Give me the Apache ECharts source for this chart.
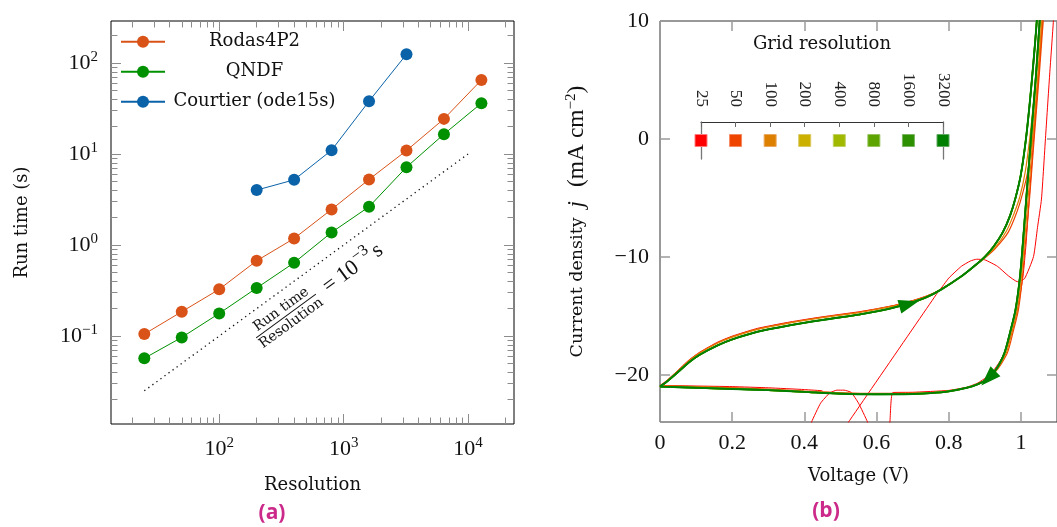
<!DOCTYPE html>
<html><head><meta charset="utf-8">
<script src="https://cdn.jsdelivr.net/npm/echarts@6/dist/echarts.min.js"></script>
<style>html,body{margin:0;padding:0;background:#fff}#c{width:1057px;height:527px}</style>
</head><body><div id="c"></div>
<script>
// ---------- (a) run time vs resolution ----------
const resolutions = [25, 50, 100, 200, 400, 800, 1600, 3200, 6400, 12800];
const rodasTimes = [0.105, 0.185, 0.326, 0.671, 1.18, 2.46, 5.25, 10.9, 24.3, 65.0];
const qndfTimes = [0.0569, 0.0966, 0.177, 0.337, 0.638, 1.375, 2.63, 7.16, 16.5, 36.1];
const courtierRes = [200, 400, 800, 1600, 3200];
const courtierTimes = [4.01, 5.2, 11.0, 38.0, 124.5];
const refLineRes = [25, 10000];
const refLineTimes = [0.025, 10];
const xMajorTicks = [100, 1000, 10000];
const xMinorTicks = [20,30,40,50,60,70,80,90,200,300,400,500,600,700,800,900,2000,3000,4000,5000,6000,7000,8000,9000,20000];
const yMajorTicks = [0.1, 1, 10, 100];
const yMinorTicks = [0.02,0.03,0.04,0.05,0.06,0.07,0.08,0.09,0.2,0.3,0.4,0.5,0.6,0.7,0.8,0.9,2,3,4,5,6,7,8,9,20,30,40,50,60,70,80,90,200];

// ---------- (b) J-V hysteresis ----------
const gridResolutions = ['25','50','100','200','400','800','1600','3200'];
const resColors = ['#ff0000','#ee4400','#dd8000','#ccb000','#a0b800','#5ea400','#2c9000','#008000'];
const resBorder = ['#ff7a7a','#f58a60','#eaa860','#dcc860','#c0d060','#98c460','#7ab460','#60a860'];
const xTicksV = [0, 0.2, 0.4, 0.6, 0.8, 1];
const yTicksJ = [-20, -10, 0, 10];
const GAP = ['-', '-'];
const jvConvergedForward = [[0,-21.0],[0.02,-20.55],[0.045,-19.9],[0.08,-18.95],[0.11,-18.3],[0.16,-17.5],[0.2,-17.0],[0.27,-16.35],[0.36,-15.8],[0.45,-15.35],[0.55,-14.9],[0.6,-14.62],[0.65,-14.28],[0.7,-13.85],[0.74,-13.4],[0.78,-12.75],[0.835,-11.65],[0.87,-10.8],[0.9,-10.0],[0.925,-9.1],[0.95,-7.9],[0.97,-6.5],[0.985,-5.0],[1.0,-3.0],[1.014,0.0],[1.025,3.2],[1.035,6.6],[1.044,10],[1.05,13]];
const jvConvergedReverse = [[1.06,13],[1.052,10],[1.042,5.5],[1.029,0.5],[1.015,-5],[1.005,-9],[0.997,-11.8],[0.985,-14.5],[0.97,-16.4],[0.955,-18.1],[0.94,-19.1],[0.925,-19.8],[0.905,-20.4],[0.88,-20.8],[0.85,-21.1],[0.8,-21.4],[0.75,-21.55],[0.7,-21.62],[0.6,-21.65],[0.5,-21.6],[0.4,-21.45],[0.3,-21.3],[0.2,-21.2],[0.1,-21.1],[0,-21.0]];
const jv100Forward = [[0,-21.0],[0.02,-20.5],[0.045,-19.82],[0.08,-18.82],[0.11,-18.15],[0.16,-17.3],[0.2,-16.8],[0.27,-16.15],[0.36,-15.6],[0.45,-15.15],[0.55,-14.72],[0.6,-14.45],[0.65,-14.15],[0.7,-13.75],[0.74,-13.33],[0.78,-12.72],[0.835,-11.65],[0.87,-10.8],[0.9,-10.05],[0.93,-9.15],[0.96,-7.8],[0.98,-6.4],[0.997,-4.9],[1.012,-2.8],[1.025,0.2],[1.036,3.4],[1.046,6.8],[1.054,10],[1.06,13]];
const jv100Reverse = [[1.068,13],[1.058,10],[1.047,5.5],[1.034,0.5],[1.02,-5],[1.009,-9],[1.001,-11.8],[0.99,-14.5],[0.975,-16.4],[0.96,-18.1],[0.943,-19.1],[0.927,-19.8],[0.906,-20.4],[0.88,-20.8],[0.85,-21.1],[0.8,-21.38],[0.75,-21.52],[0.7,-21.58],[0.6,-21.6],[0.5,-21.55],[0.4,-21.4],[0.3,-21.25],[0.2,-21.12],[0.1,-21.02],[0,-20.95]];
const jv50Forward = [[0,-21.0],[0.02,-20.5],[0.045,-19.8],[0.08,-18.8],[0.11,-18.12],[0.16,-17.28],[0.2,-16.78],[0.27,-16.12],[0.36,-15.57],[0.45,-15.12],[0.55,-14.7],[0.6,-14.43],[0.65,-14.13],[0.7,-13.73],[0.74,-13.32],[0.78,-12.72],[0.835,-11.65],[0.87,-10.82],[0.9,-10.1],[0.93,-9.25],[0.965,-7.9],[0.99,-6.1],[1.005,-4.6],[1.02,-2.6],[1.033,0.3],[1.043,3.5],[1.052,6.9],[1.059,10],[1.065,13]];
const jv50Reverse = [[1.072,13],[1.062,10],[1.051,5.5],[1.038,0.5],[1.024,-5],[1.012,-9],[1.004,-11.8],[0.993,-14.5],[0.978,-16.4],[0.963,-18.1],[0.945,-19.1],[0.928,-19.8],[0.907,-20.4],[0.88,-20.78],[0.85,-21.08],[0.8,-21.36],[0.75,-21.5],[0.7,-21.56],[0.6,-21.58],[0.5,-21.52],[0.4,-21.38],[0.3,-21.22],[0.2,-21.08],[0.1,-21.0],[0,-20.92]];
const jv25 = [
  [0,-20.9],[0.02,-20.45],[0.045,-19.75],[0.08,-18.75],[0.11,-18.08],[0.16,-17.22],[0.2,-16.72],[0.27,-16.06],[0.36,-15.52],[0.45,-15.08],[0.55,-14.66],[0.6,-14.4],[0.65,-14.1],[0.7,-13.7],[0.74,-13.3],[0.772,-12.9],[0.8,-11.8],[0.835,-10.8],[0.86,-10.35],[0.877,-10.2],[0.9,-10.25],[0.935,-10.8],[0.965,-11.6],[0.99,-12.1],[1.01,-11.85],[1.035,-9.97],[1.046,-7.5],[1.057,-5.1],[1.069,0.5],[1.08,5.6],[1.09,10],[1.095,13],
  GAP,
  [0.5,-25],[0.772,-12.9],
  GAP,
  [0.41,-25],[0.42,-24],[0.445,-22.4],[0.47,-21.55],[0.49,-21.3],[0.51,-21.3],[0.53,-21.5],[0.55,-22.4],[0.575,-24],[0.585,-25],
  GAP,
  [0.632,-25],[0.637,-24],[0.645,-21.5],[0.7,-21.48],[0.8,-21.32],[0.85,-21.05],[0.88,-20.7],[0.905,-20.2],[0.925,-19.6],[0.945,-18.7],[0.962,-17.6],[0.978,-16.1],[0.993,-14.1],[1.006,-11.6],[1.014,-9],[1.022,-5.5],[1.034,-0.5],[1.048,5],[1.06,10],[1.066,13],
  GAP,
  [0,-20.9],[0.1,-20.95],[0.2,-21.0],[0.3,-21.1],[0.4,-21.25],[0.45,-21.35]
];
const arrowPoints = [[0.69,-14.0],[0.91,-20.3]];
const arrowAngles = [-74, 135];

// ---------- helpers ----------
const SERIF = 'Liberation Serif';
const TEXT = 'DejaVu Serif';
const lg = Math.log10;
function powLabel(v) {
  const l = lg(v), e = Math.round(l);
  if (Math.abs(l - e) > 1e-6) return '';
  return '10{s|' + (e < 0 ? '\u2212' + (-e) : e) + '}';
}
const powRich = { s: { fontFamily: SERIF, fontSize: 15, color: '#111', verticalAlign: 'top', lineHeight: 15 } };
const tickGray = '#8c8c8c';
const X0MIN = 13.5, X0MAX = 23400, Y0MIN = 0.0108, Y0MAX = 289;

function tickAxis(gridIndex, pos, min, max, vals, len, color, width) {
  return { type: 'value', gridIndex, position: pos, min, max,
    axisLine: { show: false, onZero: false },
    axisTick: { show: true, inside: true, length: len, customValues: vals, lineStyle: { color, width } },
    axisLabel: { show: false }, splitLine: { show: false } };
}

const xAxes = [
  { type: 'log', gridIndex: 0, position: 'bottom', min: X0MIN, max: X0MAX,
    axisLine: { show: false, onZero: false },
    axisTick: { inside: true, length: 10, lineStyle: { color: tickGray } },
    axisLabel: { formatter: powLabel, showMinLabel: false, showMaxLabel: false, margin: 12,
      fontFamily: SERIF, fontSize: 22, color: '#111', lineHeight: 26, rich: powRich },
    splitLine: { show: false }, minorTick: { show: false },
    name: 'Resolution', nameLocation: 'middle', nameGap: 52,
    nameTextStyle: { fontFamily: TEXT, fontSize: 18, color: '#111' } },
  tickAxis(0, 'bottom', lg(X0MIN), lg(X0MAX), xMinorTicks.map(lg), 6.5, tickGray, 1),
  tickAxis(0, 'top', lg(X0MIN), lg(X0MAX), xMajorTicks.map(lg), 10, tickGray, 1),
  tickAxis(0, 'top', lg(X0MIN), lg(X0MAX), xMinorTicks.map(lg), 6.5, tickGray, 1),
  { type: 'value', gridIndex: 1, position: 'bottom', min: 0, max: 1.1,
    axisLine: { show: false, onZero: false },
    axisTick: { inside: true, length: 10, customValues: xTicksV, lineStyle: { color: '#9a9a9a', width: 1.5 } },
    axisLabel: { customValues: xTicksV, formatter: v => String(Math.round(v * 10) / 10), margin: 10,
      fontFamily: SERIF, fontSize: 22, color: '#111' },
    splitLine: { show: false },
    name: 'Voltage (V)', nameLocation: 'middle', nameGap: 45,
    nameTextStyle: { fontFamily: TEXT, fontSize: 18, color: '#111' } },
  tickAxis(1, 'top', 0, 1.1, xTicksV, 10, '#9a9a9a', 1.5),
  { type: 'category', gridIndex: 2, position: 'top', data: gridResolutions, boundaryGap: false,
    axisLine: { show: true, onZero: false, lineStyle: { color: '#333', width: 1 } },
    axisTick: { show: true, inside: true, length: 5, interval: 0, lineStyle: { color: '#666', width: 1 } },
    axisLabel: { rotate: 90, margin: 15, interval: 0, fontFamily: SERIF, fontSize: 17, color: '#222' },
    splitLine: { show: false } }
];

const yAxes = [
  { type: 'log', gridIndex: 0, position: 'left', min: Y0MIN, max: Y0MAX,
    axisLine: { show: false, onZero: false },
    axisTick: { inside: true, length: 10, lineStyle: { color: tickGray } },
    axisLabel: { formatter: powLabel, showMinLabel: false, showMaxLabel: false, margin: 13,
      fontFamily: SERIF, fontSize: 22, color: '#111', lineHeight: 26, rich: powRich },
    splitLine: { show: false }, minorTick: { show: false },
    name: 'Run time (s)', nameLocation: 'middle', nameGap: 80,
    nameTextStyle: { fontFamily: TEXT, fontSize: 18, color: '#111' } },
  tickAxis(0, 'left', lg(Y0MIN), lg(Y0MAX), yMinorTicks.map(lg), 6.5, tickGray, 1),
  tickAxis(0, 'right', lg(Y0MIN), lg(Y0MAX), yMajorTicks.map(lg), 10, tickGray, 1),
  tickAxis(0, 'right', lg(Y0MIN), lg(Y0MAX), yMinorTicks.map(lg), 6.5, tickGray, 1),
  { type: 'value', gridIndex: 1, position: 'left', min: -24, max: 10,
    axisLine: { show: false, onZero: false },
    axisTick: { inside: true, length: 10, customValues: yTicksJ, lineStyle: { color: '#9a9a9a', width: 1.5 } },
    axisLabel: { customValues: yTicksJ, formatter: v => v < 0 ? '\u2212' + (-v) : String(v), margin: 11,
      fontFamily: SERIF, fontSize: 22, color: '#111' },
    splitLine: { show: false },
    name: '{t|Current density}{g|}{j|j}{g2|}{m|(mA cm}{s|\u22122}{m|)}', nameLocation: 'middle', nameGap: 70,
    nameTextStyle: { fontFamily: TEXT, fontSize: 17, color: '#111', rich: {
      t: { fontFamily: TEXT, fontSize: 17.5, color: '#111', lineHeight: 26 },
      g: { width: 10 },
      g2: { width: 14 },
      j: { fontFamily: SERIF, fontStyle: 'italic', fontSize: 23, color: '#111', lineHeight: 26 },
      m: { fontFamily: SERIF, fontSize: 23.5, color: '#111', lineHeight: 26 },
      s: { fontFamily: SERIF, fontSize: 15, color: '#111', verticalAlign: 'top', lineHeight: 15 } } } },
  tickAxis(1, 'right', -24, 10, yTicksJ, 10, '#9a9a9a', 1.5),
  { type: 'value', gridIndex: 2, position: 'left', min: -1, max: 1,
    axisLine: { show: true, onZero: false, lineStyle: { color: '#777', width: 1.3 } },
    axisTick: { show: false }, axisLabel: { show: false }, splitLine: { show: false } },
  { type: 'value', gridIndex: 2, position: 'right', min: -1, max: 1,
    axisLine: { show: true, onZero: false, lineStyle: { color: '#777', width: 1.3 } },
    axisTick: { show: false }, axisLabel: { show: false }, splitLine: { show: false } }
];

function perfLine(name, xs, ys, color) {
  return { name, type: 'line', xAxisIndex: 0, yAxisIndex: 0, data: xs.map((x, i) => [x, ys[i]]),
    symbol: 'circle', symbolSize: 12, showAllSymbol: true, color,
    itemStyle: { color, opacity: 1 }, lineStyle: { color, width: 1 }, z: 3 };
}
const jvData = {
  '25': jv25,
  '50': jv50Forward.concat(jv50Reverse),
  '100': jv100Forward.concat(jv100Reverse),
  '200': jvConvergedForward.concat(jvConvergedReverse),
  '400': jvConvergedForward.concat(jvConvergedReverse),
  '800': jvConvergedForward.concat(jvConvergedReverse),
  '1600': jvConvergedForward.concat(jvConvergedReverse),
  '3200': jvConvergedForward.concat(jvConvergedReverse)
};
const jvWidths = [1, 1.2, 1.2, 1.5, 1.5, 1.6, 1.7, 1.9];
const jvSeries = gridResolutions.map((r, i) => ({
  name: 'N=' + r, type: 'line', xAxisIndex: 4, yAxisIndex: 4, data: jvData[r],
  showSymbol: false, symbol: 'none', smooth: i === 0 ? 0.15 : 0.3, connectNulls: false, clip: true,
  lineStyle: { color: resColors[i], width: jvWidths[i] }, z: 2 + i
}));

const option = {
  animation: false,
  backgroundColor: '#fff',
  grid: [
    { left: 111, top: 21, width: 403, height: 403, show: true, borderColor: '#000', borderWidth: 1, backgroundColor: 'transparent' },
    { left: 660, top: 21, width: 404, height: 401, show: true, borderColor: '#333', borderWidth: 1, backgroundColor: 'transparent' },
    { left: 701, top: 122, width: 242, height: 37, show: false }
  ],
  xAxis: xAxes,
  yAxis: yAxes,
  legend: {
    data: ['Rodas4P2', 'QNDF', 'Courtier (ode15s)'], orient: 'vertical', left: 120, top: 31.7, padding: 0,
    itemWidth: 44, itemHeight: 15, itemGap: 10, selectedMode: false,
    formatter: n => '{c|' + n + '}',
    textStyle: { fontFamily: TEXT, fontSize: 18, color: '#111', lineHeight: 20,
      rich: { c: { width: 169, align: 'center', fontFamily: TEXT, fontSize: 18, color: '#111', lineHeight: 20 } } }
  },
  series: [
    { name: 'ref', type: 'line', xAxisIndex: 0, yAxisIndex: 0, data: refLineRes.map((x, i) => [x, refLineTimes[i]]),
      symbol: 'none', lineStyle: { color: '#111', width: 1.3, type: [1.3, 3.7] }, z: 2 },
    perfLine('Rodas4P2', resolutions, rodasTimes, '#d95319'),
    perfLine('QNDF', resolutions, qndfTimes, '#009100'),
    perfLine('Courtier (ode15s)', courtierRes, courtierTimes, '#0a62a8'),
    ...jvSeries,
    { name: 'arrows', type: 'scatter', xAxisIndex: 4, yAxisIndex: 4, symbol: 'triangle', symbolSize: [14, 20],
      data: arrowPoints.map((p, i) => ({ value: p, symbolRotate: arrowAngles[i] })),
      itemStyle: { color: '#008000', opacity: 1 }, z: 20 },
    { name: 'resolution key', type: 'scatter', xAxisIndex: 6, yAxisIndex: 6, symbol: 'rect', symbolSize: 12,
      data: gridResolutions.map((r, i) => ({ value: [r, 0], itemStyle: { color: resColors[i], borderColor: resBorder[i], borderWidth: 1, opacity: 1 } })),
      z: 10 }
  ],
  graphic: [
    { type: 'text', x: 822, y: 44, style: { text: 'Grid resolution', fontFamily: TEXT, fontSize: 18, fill: '#111', align: 'center', verticalAlign: 'middle' } },
    { type: 'text', x: 272, y: 513, style: { text: '(a)', fontFamily: 'Open Sans', fontWeight: 'bold', fontSize: 21, fill: '#cc2a8a', align: 'center', verticalAlign: 'middle' } },
    { type: 'text', x: 826, y: 511, style: { text: '(b)', fontFamily: 'Open Sans', fontWeight: 'bold', fontSize: 21, fill: '#cc2a8a', align: 'center', verticalAlign: 'middle' } },
    { type: 'group', x: 286, y: 316, rotation: 36.2 * Math.PI / 180, children: [
      { type: 'text', x: 0, y: -8, style: { text: 'Run time', fontFamily: TEXT, fontSize: 14, fill: '#111', align: 'center', verticalAlign: 'middle' } },
      { type: 'line', shape: { x1: -37, y1: 0, x2: 37, y2: 0 }, style: { stroke: '#111', lineWidth: 1 } },
      { type: 'text', x: 0, y: 9, style: { text: 'Resolution', fontFamily: TEXT, fontSize: 14, fill: '#111', align: 'center', verticalAlign: 'middle' } },
      { type: 'text', x: 54, y: 1, style: { text: '=', fontFamily: SERIF, fontSize: 22, fill: '#111', align: 'center', verticalAlign: 'middle' } },
      { type: 'text', x: 65, y: 1, style: { text: '10', fontFamily: SERIF, fontSize: 22, fill: '#111', align: 'left', verticalAlign: 'middle' } },
      { type: 'text', x: 88, y: -7, style: { text: '\u22123', fontFamily: SERIF, fontSize: 16, fill: '#111', align: 'left', verticalAlign: 'middle' } },
      { type: 'text', x: 108, y: 1, style: { text: 's', fontFamily: SERIF, fontSize: 22, fill: '#111', align: 'left', verticalAlign: 'middle' } }
    ] }
  ]
};
const chart = echarts.init(document.getElementById('c'), null, { renderer: 'canvas' });
chart.setOption(option);
</script></body></html>
